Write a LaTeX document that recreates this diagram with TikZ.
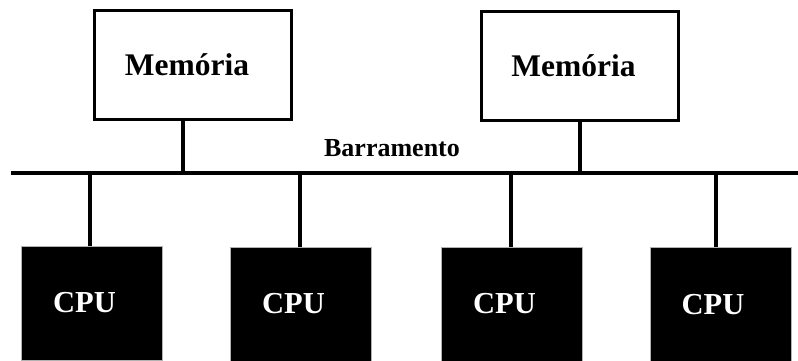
\documentclass[tikz,border=0pt]{standalone}
\usepackage{fontspec}
\setmainfont{Liberation Serif}
\begin{document}
\begin{tikzpicture}[x=1pt,y=-1pt,
  membox/.style={draw=black,line width=3pt,fill=white,minimum width=197pt,minimum height=109pt,inner sep=0pt,
    font=\fontsize{31.5}{31.5}\selectfont\bfseries},
  cpubox/.style={draw=gray!60,line width=0.8pt,fill=black,text=white,minimum width=141pt,minimum height=114pt,inner sep=0pt,
    font=\fontsize{30.5}{30.5}\selectfont\bfseries},
  wire/.style={line width=4.5pt}]
\useasboundingbox (0,0) rectangle (798,360);
\node[membox] (m1) at (193,64.5) {\hspace*{-12pt}Memória};
\node[membox] (m2) at (579.5,65.5) {\hspace*{-12pt}Memória};
\coordinate (bl) at (11,173);
\coordinate (br) at (800,173);
\draw[wire] (bl) -- (br);
\node[font=\fontsize{26}{26}\selectfont\bfseries] (lbl) at (392,148) {Barramento};
\node[cpubox] (c1) at (91.5,303) {\hspace*{-14pt}CPU};
\node[cpubox] (c2) at (300.5,304) {\hspace*{-14pt}CPU};
\node[cpubox] (c3) at (511.5,304) {\hspace*{-14pt}CPU};
\node[cpubox] (c4) at (720.5,304.5) {\hspace*{-15pt}CPU};
\coordinate (u1) at (183,173);
\coordinate (u2) at (580,173);
\coordinate (t1) at (90,173);
\coordinate (t2) at (300,173);
\coordinate (t3) at (511,173);
\coordinate (t4) at (716,173);
\draw[wire] (u1 |- m1.south) -- (u1);
\draw[wire] (u2 |- m2.south) -- (u2);
\draw[wire] (t1) -- (t1 |- c1.north);
\draw[wire] (t2) -- (t2 |- c2.north);
\draw[wire] (t3) -- (t3 |- c3.north);
\draw[wire] (t4) -- (t4 |- c4.north);
\end{tikzpicture}
\end{document}
